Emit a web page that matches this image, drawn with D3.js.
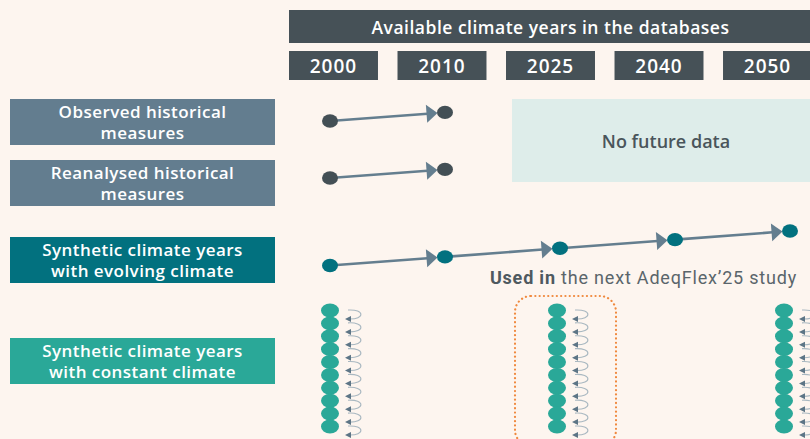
<!DOCTYPE html>
<html>
<head>
<meta charset="utf-8">
<script src="https://cdn.jsdelivr.net/npm/d3@7"></script>
<style>
  html, body { margin: 0; padding: 0; background: #fdf5ef; }
  svg { display: block; }
</style>
</head>
<body>
<svg id="chart" width="810" height="439"></svg>
<script>
// ---------- data ----------
const headerTitle = "Available climate years in the databases";
const years = ["2000", "2010", "2025", "2040", "2050"];
const rowLabels = [
  ["Observed historical", "measures"],
  ["Reanalysed historical", "measures"],
  ["Synthetic climate years", "with evolving climate"],
  ["Synthetic climate years", "with constant climate"]
];
const observedYears = ["2000", "2010"];
const reanalysedYears = ["2000", "2010"];
const evolvingYears = ["2000", "2010", "2025", "2040", "2050"];
const constantYears = ["2000", "2025", "2050"];
const constantYearsPerColumn = 10;
const highlightYear = "2025";
const noFutureText = "No future data";
const noteBold = "Used in";
const noteRest = " the next AdeqFlex\u201925 study";

// ---------- styling ----------
const W = 810, H = 439;
const C = {
  header: "#465157",
  histBox: "#637d8f",
  evolvBox: "#02717f",
  constBox: "#2aa898",
  histDot: "#434f55",
  evolvDot: "#02717f",
  constDot: "#2aa898",
  arrow: "#647e8f",
  loop: "#a9b8c1",
  loopHead: "#5d7586",
  noFuture: "#deedea",
  noFutureText: "#4a555b",
  orange: "#f0893e"
};
const FONT = "'Open Sans', 'Noto Sans', sans-serif";

const svg = d3.select("#chart");
svg.append("rect").attr("width", W).attr("height", H).attr("fill", "#fdf5ef");

// scales
const yearBand = d3.scaleBand().domain(years).range([289, 812]).paddingInner(0.18).paddingOuter(0);
const xDot = d3.scalePoint().domain(years).range([330, 790]);
const xConst = d3.scalePoint().domain(constantYears).range([330, 784]);
const rowBand = d3.scaleOrdinal().domain([0, 1, 2, 3]).range([99, 160, 237, 338]);
const rowH = 46;
const slope = 0.075;

// header
svg.append("rect").attr("x", 289).attr("y", 10).attr("width", 812 - 289).attr("height", 33).attr("fill", C.header);
svg.append("text").attr("x", (289 + 812) / 2).attr("y", 27).attr("text-anchor", "middle")
  .attr("dominant-baseline", "central").attr("fill", "#fff").attr("letter-spacing", 0.5)
  .style("font", `600 17.5px ${FONT}`).text(headerTitle);

// year boxes
const yg = svg.append("g");
yg.selectAll("rect").data(years).join("rect")
  .attr("x", d => yearBand(d)).attr("y", 51).attr("width", yearBand.bandwidth()).attr("height", 29)
  .attr("fill", C.header);
yg.selectAll("text").data(years).join("text")
  .attr("x", d => yearBand(d) + yearBand.bandwidth() / 2).attr("y", 66)
  .attr("text-anchor", "middle").attr("dominant-baseline", "central").attr("fill", "#fff")
  .attr("letter-spacing", 1)
  .style("font", `600 19px ${FONT}`).text(d => d);

// row label boxes
const boxColors = [C.histBox, C.histBox, C.evolvBox, C.constBox];
rowLabels.forEach((lines, i) => {
  const y0 = rowBand(i);
  svg.append("rect").attr("x", 10).attr("y", y0).attr("width", 265).attr("height", rowH).attr("fill", boxColors[i]);
  const t = svg.append("text").attr("text-anchor", "middle").attr("fill", "#fff")
    .attr("letter-spacing", 0.45)
    .style("font", `600 17px ${FONT}`);
  lines.forEach((l, j) => {
    t.append("tspan").attr("x", 142.5).attr("y", y0 + rowH / 2 + (j - 0.5) * 21)
      .attr("dominant-baseline", "central").text(l);
  });
});

// no future data box
svg.append("rect").attr("x", 512).attr("y", 99).attr("width", 310).attr("height", 83).attr("fill", C.noFuture);
svg.append("text").attr("x", 666).attr("y", 141).attr("text-anchor", "middle").attr("dominant-baseline", "central")
  .attr("fill", C.noFutureText).style("font", `600 18px ${FONT}`).text(noFutureText);

// arrowed timeline
function timeline(yrs, baseY, dotColor) {
  const pts = yrs.map(y => {
    const x = xDot(y);
    return { x, y: baseY - slope * (x - xDot(years[0])) };
  });
  const g = svg.append("g");
  const rx = 8, ry = 6.7, headLen = 11, headHalf = 9;
  for (let i = 0; i < pts.length - 1; i++) {
    const a = pts[i], b = pts[i + 1];
    const dx = b.x - a.x, dy = b.y - a.y, L = Math.hypot(dx, dy);
    const ux = dx / L, uy = dy / L;
    const tip = { x: b.x - ux * (rx - 0.5), y: b.y - uy * (rx - 0.5) };
    const base = { x: tip.x - ux * headLen, y: tip.y - uy * headLen };
    g.append("line").attr("x1", a.x).attr("y1", a.y).attr("x2", base.x + ux).attr("y2", base.y + uy)
      .attr("stroke", C.arrow).attr("stroke-width", 2.6);
    g.append("path")
      .attr("d", `M${tip.x},${tip.y}L${base.x - uy * headHalf},${base.y + ux * headHalf}L${base.x + uy * headHalf},${base.y - ux * headHalf}Z`)
      .attr("fill", C.arrow);
  }
  g.selectAll("ellipse").data(pts).join("ellipse")
    .attr("cx", d => d.x).attr("cy", d => d.y).attr("rx", rx).attr("ry", ry).attr("fill", dotColor);
}
timeline(observedYears, 121, C.histDot);
timeline(reanalysedYears, 178, C.histDot);
timeline(evolvingYears, 265.5, C.evolvDot);

// note text
const note = svg.append("text").attr("x", 797).attr("y", 284).attr("text-anchor", "end")
  .attr("letter-spacing", 0.8)
  .style("font", `400 18px Roboto, sans-serif`).attr("fill", "#5a656b");
note.append("tspan").attr("font-weight", 700).attr("fill", "#4e595f").text(noteBold);
note.append("tspan").text(noteRest);

// constant climate columns
const idx = d3.range(constantYearsPerColumn);
const yConst = d3.scalePoint().domain(idx).range([310.5, 426.5]);
constantYears.forEach(yr => {
  const cx = xConst(yr);
  const g = svg.append("g");
  idx.forEach(k => {
    const cy = yConst(k);
    g.append("path")
      .attr("d", `M${cx + 18},${cy - 0.5} C${cx + 35},${cy - 1.5} ${cx + 35},${cy + 9} ${cx + 19},${cy + 8.5}`)
      .attr("fill", "none").attr("stroke", C.loop).attr("stroke-width", 1.1);
    g.append("path")
      .attr("d", `M${cx + 15},${cy + 8.5}L${cx + 21},${cy + 5.5}L${cx + 21},${cy + 11.5}Z`)
      .attr("fill", C.loopHead);
  });
  g.selectAll("ellipse").data(idx).join("ellipse")
    .attr("cx", cx).attr("cy", d => yConst(d)).attr("rx", 9).attr("ry", 7).attr("fill", C.constDot);
  if (yr === highlightYear) {
    svg.append("rect").attr("x", cx - 42).attr("y", 296).attr("width", 101).attr("height", 150)
      .attr("rx", 16).attr("fill", "none").attr("stroke", C.orange).attr("stroke-width", 2.2)
      .attr("stroke-linecap", "round").attr("stroke-dasharray", "0.1 4.2");
  }
});
</script>
</body>
</html>
